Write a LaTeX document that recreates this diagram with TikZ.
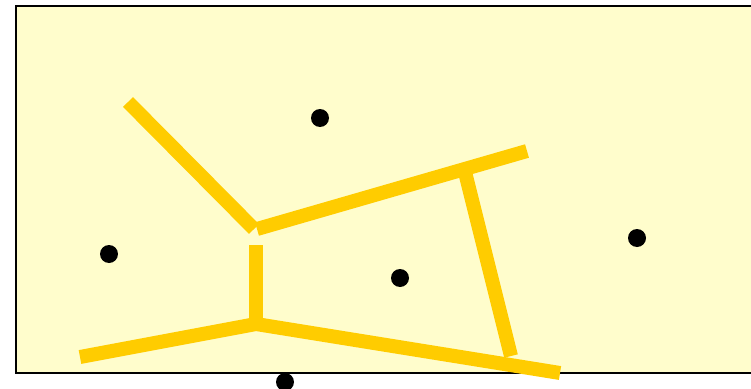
\documentclass[tikz,border=0pt]{standalone}
\usepackage{xcolor}
\usepackage{tikz}
\usetikzlibrary{positioning, calc}
\definecolor{paneyellow}{RGB}{255, 253, 204}
\definecolor{edgegold}{RGB}{255, 204, 0}
\tikzset{
  site/.style={circle, fill=black, inner sep=0pt, minimum size=0.36cm},
  vedge/.style={edgegold, line width=0.28cm, line cap=butt},
}

\begin{document}
\begin{tikzpicture}[x=0.02cm, y=-0.02cm]
    \useasboundingbox (0,0) rectangle (751,389);
    % Pane
    \draw[fill=paneyellow, line width=1.6pt] (16,6) rectangle (752,373);
    % Edge end points
    \coordinate (ul) at (128,102);
    \coordinate (uj) at (254,229);
    \coordinate (uj2) at (257,229);
    \coordinate (ur) at (527,151);
    \coordinate (ut) at (465,172);
    \coordinate (mt) at (256,245);
    \coordinate (mj) at (256,324);
    \coordinate (ll) at (80,357);
    \coordinate (lr) at (560,373);
    \coordinate (fb) at (511,356);
    % Edges
    \draw[vedge] (ul) -- (uj);
    \draw[vedge] (uj2) -- (ur);
    \draw[vedge] (ut) -- (fb);
    \draw[vedge] (mt) -- (mj);
    \draw[vedge] (ll) -- (mj) -- (lr);
    % Sites
    \node[site] (s1) at (320,118) {};
    \node[site] (s2) at (109,254) {};
    \node[site] (s3) at (400,278) {};
    \node[site] (s4) at (637,238) {};
    \node[site] (s5) at (285,382) {};
\end{tikzpicture}
\end{document}
